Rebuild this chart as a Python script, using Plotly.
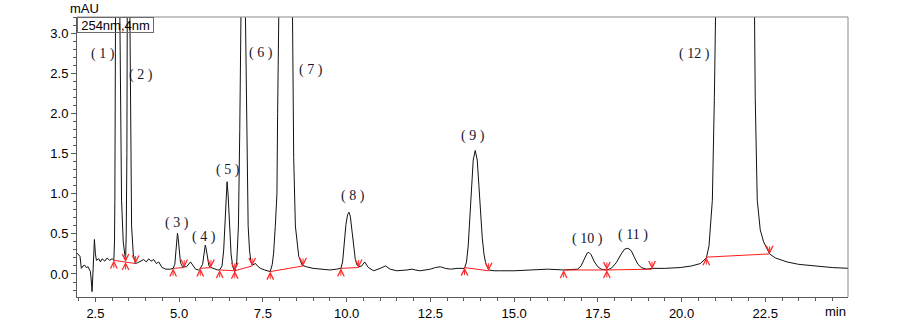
import plotly.graph_objects as go

# ---- chromatogram signal (time in min, absorbance in mAU) ----
time_min = [
    1.95, 2.00, 2.04, 2.08, 2.13, 2.18, 2.23, 2.28, 2.35, 2.38, 2.40, 2.43, 2.47, 2.50, 2.53,
    2.60, 2.65, 2.70, 2.78, 2.85, 2.92, 3.00, 3.05, 3.07, 3.08, 3.10, 3.13, 3.16, 3.20, 3.23,
    3.28, 3.33, 3.37, 3.40, 3.42, 3.44, 3.45, 3.49, 3.53, 3.55, 3.58, 3.63, 3.69, 3.76, 3.84,
    3.94, 4.02, 4.09, 4.16, 4.24, 4.32, 4.39, 4.49, 4.60, 4.74, 4.82, 4.87, 4.90, 4.93, 4.95,
    4.97, 5.00, 5.04, 5.10, 5.15, 5.22, 5.34, 5.42, 5.49, 5.58, 5.63, 5.70, 5.74, 5.77, 5.78,
    5.80, 5.84, 5.89, 5.95, 6.05, 6.15, 6.21, 6.28, 6.33, 6.37, 6.40, 6.43, 6.46, 6.50, 6.55,
    6.60, 6.66, 6.72, 6.77, 6.81, 6.85, 6.88, 6.915, 6.95, 6.98, 7.02, 7.06, 7.10, 7.14, 7.18,
    7.28, 7.36, 7.43, 7.55, 7.67, 7.72, 7.78, 7.82, 7.87, 7.92, 7.94, 7.96, 8.00, 8.10, 8.18,
    8.26, 8.34, 8.39, 8.42, 8.47, 8.57, 8.67, 8.80, 9.00, 9.22, 9.50, 9.70, 9.83, 9.88, 9.93,
    9.98, 10.03, 10.07, 10.11, 10.16, 10.21, 10.26, 10.31, 10.36, 10.45, 10.54, 10.65, 10.81, 11.00, 11.16,
    11.30, 11.50, 11.80, 11.95, 12.05, 12.20, 12.50, 12.65, 12.80, 12.95, 13.10, 13.30, 13.52, 13.58, 13.63,
    13.68, 13.73, 13.78, 13.84, 13.90, 13.95, 14.00, 14.05, 14.10, 14.15, 14.24, 14.40, 14.60, 15.00, 15.50,
    16.00, 16.48, 16.90, 17.00, 17.10, 17.18, 17.23, 17.30, 17.40, 17.50, 17.60, 17.72, 17.77, 17.90, 18.05,
    18.20, 18.30, 18.40, 18.50, 18.60, 18.70, 18.80, 18.95, 19.12, 19.50, 19.96, 20.30, 20.56, 20.74, 20.82,
    20.86, 20.92, 20.98, 21.02, 21.20, 21.60, 22.00, 22.16, 22.20, 22.26, 22.35, 22.45, 22.63, 22.80, 23.15,
    23.50, 23.94, 24.50, 25.00,
]
absorbance = [
    0.26, 0.24, 0.22, 0.07, 0.10, 0.11, 0.08, 0.09, 0.03, -0.10, -0.22, 0.05, 0.43, 0.25, 0.17,
    0.19, 0.15, 0.19, 0.16, 0.20, 0.17, 0.19, 0.17, 0.40, 0.92, 3.20, 4.60, 5.00, 4.40, 3.20,
    0.92, 0.40, 0.22, 0.17, 0.50, 1.50, 3.20, 4.50, 3.20, 1.50, 0.60, 0.25, 0.13, 0.14, 0.16,
    0.18, 0.15, 0.19, 0.16, 0.18, 0.13, 0.15, 0.08, 0.06, 0.06, 0.07, 0.12, 0.25, 0.44, 0.51,
    0.45, 0.28, 0.14, 0.09, 0.09, 0.09, 0.15, 0.10, 0.06, 0.05, 0.07, 0.12, 0.24, 0.34, 0.36,
    0.33, 0.20, 0.10, 0.08, 0.06, 0.05, 0.05, 0.10, 0.30, 0.70, 1.02, 1.15, 1.00, 0.60, 0.25,
    0.09, 0.03, 0.15, 0.60, 1.80, 3.20, 5.00, 6.00, 5.00, 3.20, 1.50, 0.60, 0.30, 0.16, 0.11,
    0.13, 0.09, 0.07, 0.05, 0.04, 0.03, 0.12, 0.26, 0.59, 1.00, 2.00, 3.40, 5.50, 9.00, 10.50,
    9.50, 5.50, 3.20, 1.45, 0.60, 0.22, 0.11, 0.09, 0.07, 0.06, 0.05, 0.06, 0.07, 0.15, 0.38,
    0.62, 0.74, 0.77, 0.72, 0.55, 0.32, 0.18, 0.11, 0.09, 0.10, 0.15, 0.08, 0.04, 0.07, 0.10,
    0.06, 0.04, 0.05, 0.06, 0.05, 0.04, 0.06, 0.08, 0.09, 0.07, 0.06, 0.07, 0.07, 0.15, 0.35,
    0.70, 1.10, 1.42, 1.54, 1.42, 1.10, 0.75, 0.45, 0.25, 0.14, 0.05, 0.04, 0.04, 0.04, 0.05,
    0.06, 0.05, 0.06, 0.10, 0.20, 0.26, 0.27, 0.24, 0.15, 0.09, 0.06, 0.05, 0.05, 0.07, 0.14,
    0.25, 0.31, 0.32, 0.29, 0.20, 0.12, 0.08, 0.06, 0.07, 0.07, 0.08, 0.10, 0.13, 0.20, 0.35,
    0.55, 0.92, 2.20, 3.50, 12.0, 20.0, 12.0, 3.50, 2.20, 0.92, 0.55, 0.40, 0.25, 0.20, 0.15,
    0.12, 0.10, 0.08, 0.07,
]

# ---- integration baselines (each list is one drop-line run) ----
baseline_t = [[3.05, 3.40, 3.70], [4.82, 5.15], [5.63, 5.95], [6.21, 6.66, 7.18],
              [7.72, 8.70], [9.83, 10.36], [13.52, 14.24], [16.48, 17.77, 19.12], [20.74, 22.63]]
baseline_v = [[0.17, 0.15, 0.13], [0.07, 0.08], [0.07, 0.08], [0.05, 0.04, 0.10],
              [0.03, 0.10], [0.07, 0.08], [0.08, 0.04], [0.05, 0.05, 0.06], [0.21, 0.25]]

# ---- peak labels ----
peak_labels = ["( 1 )", "( 2 )", "( 3 )", "( 4 )", "( 5 )", "( 6 )", "( 7 )", "( 8 )", "( 9 )",
               "( 10 )", "( 11 )", "( 12 )"]
label_t = [2.74, 3.87, 4.94, 5.73, 6.46, 7.43, 8.93, 10.20, 13.78, 17.18, 18.56, 20.40]
label_v = [2.74, 2.48, 0.64, 0.46, 1.30, 2.75, 2.54, 0.97, 1.72, 0.44, 0.49, 2.74]

x_range = [1.95, 24.97]
y_range = [-0.287, 3.204]

fig = go.Figure()
fig.add_trace(go.Scatter(x=time_min, y=absorbance, mode="lines",
                         line=dict(color="#111111", width=1), hoverinfo="skip"))

annotations = []
RED = "#ff2a2a"
for ts, vs in zip(baseline_t, baseline_v):
    fig.add_trace(go.Scatter(x=ts, y=vs, mode="lines",
                             line=dict(color="#ff1a1a", width=1), hoverinfo="skip"))
    n = len(ts)
    for i, (t, v) in enumerate(zip(ts, vs)):
        if i < n - 1:   # peak start marker (arrow pointing up)
            annotations.append(dict(x=t, y=v, xref="x", yref="y", text="", showarrow=True,
                                    ax=0, ay=9, arrowhead=5, arrowsize=1.3, arrowwidth=1,
                                    arrowcolor=RED, standoff=0))
        if i > 0:       # peak end marker (arrow pointing down)
            annotations.append(dict(x=t, y=v, xref="x", yref="y", text="", showarrow=True,
                                    ax=0, ay=-9, arrowhead=5, arrowsize=1.3, arrowwidth=1,
                                    arrowcolor=RED, standoff=0))

for txt, t, v in zip(peak_labels, label_t, label_v):
    annotations.append(dict(x=t, y=v, xref="x", yref="y", text=txt, showarrow=False,
                            font=dict(family="Liberation Serif", size=14, color="#15152e")))

annotations += [
    dict(x=0, y=1, xref="paper", yref="paper", xanchor="left", yanchor="top",
         text="254nm,4nm", showarrow=False, width=75, height=14, borderpad=0,
         bordercolor="#6a6a6a", borderwidth=1, bgcolor="rgba(0,0,0,0)",
         font=dict(family="Liberation Sans, Arial", size=13, color="#000000")),
    dict(x=-0.012, y=1, xref="paper", yref="paper", xanchor="left", yanchor="bottom",
         text="mAU", showarrow=False, yshift=-1,
         font=dict(family="Liberation Sans, Arial", size=13, color="#000000")),
    dict(x=1, y=0, xref="paper", yref="paper", xanchor="right", yanchor="top",
         text="min", showarrow=False, yshift=-5,
         font=dict(family="Liberation Sans, Arial", size=13, color="#000000")),
]

axis_font = dict(family="Liberation Sans, Arial", size=13, color="#000000")
fig.update_layout(
    width=900, height=320,
    margin=dict(l=77, r=52, t=17, b=23, autoexpand=False),
    paper_bgcolor="white", plot_bgcolor="white",
    showlegend=False,
    annotations=annotations,
    xaxis=dict(range=x_range, tick0=0, dtick=2.5, tickformat=".1f",
               showgrid=False, zeroline=False, showline=True, linecolor="#5a5a5a", linewidth=1,
               ticks="outside", ticklen=4, tickcolor="#5a5a5a", tickfont=axis_font,
               minor=dict(dtick=0.5, ticks="outside", ticklen=3, tickcolor="#5a5a5a", showgrid=False)),
    yaxis=dict(range=y_range, tick0=0, dtick=0.5, tickformat=".1f",
               showgrid=False, zeroline=False, showline=True, linecolor="#5a5a5a", linewidth=1,
               ticks="outside", ticklen=5, tickcolor="#5a5a5a", tickfont=axis_font,
               minor=dict(dtick=0.1, ticks="outside", ticklen=3, tickcolor="#5a5a5a", showgrid=False)),
    shapes=[
        dict(type="line", xref="paper", yref="paper", x0=0, x1=1, y0=1, y1=1,
             line=dict(color="#8a8a8a", width=1)),
        dict(type="line", xref="paper", yref="paper", x0=1, x1=1, y0=0, y1=1,
             line=dict(color="#8a8a8a", width=1)),
    ],
)

fig.write_html("out.html")
